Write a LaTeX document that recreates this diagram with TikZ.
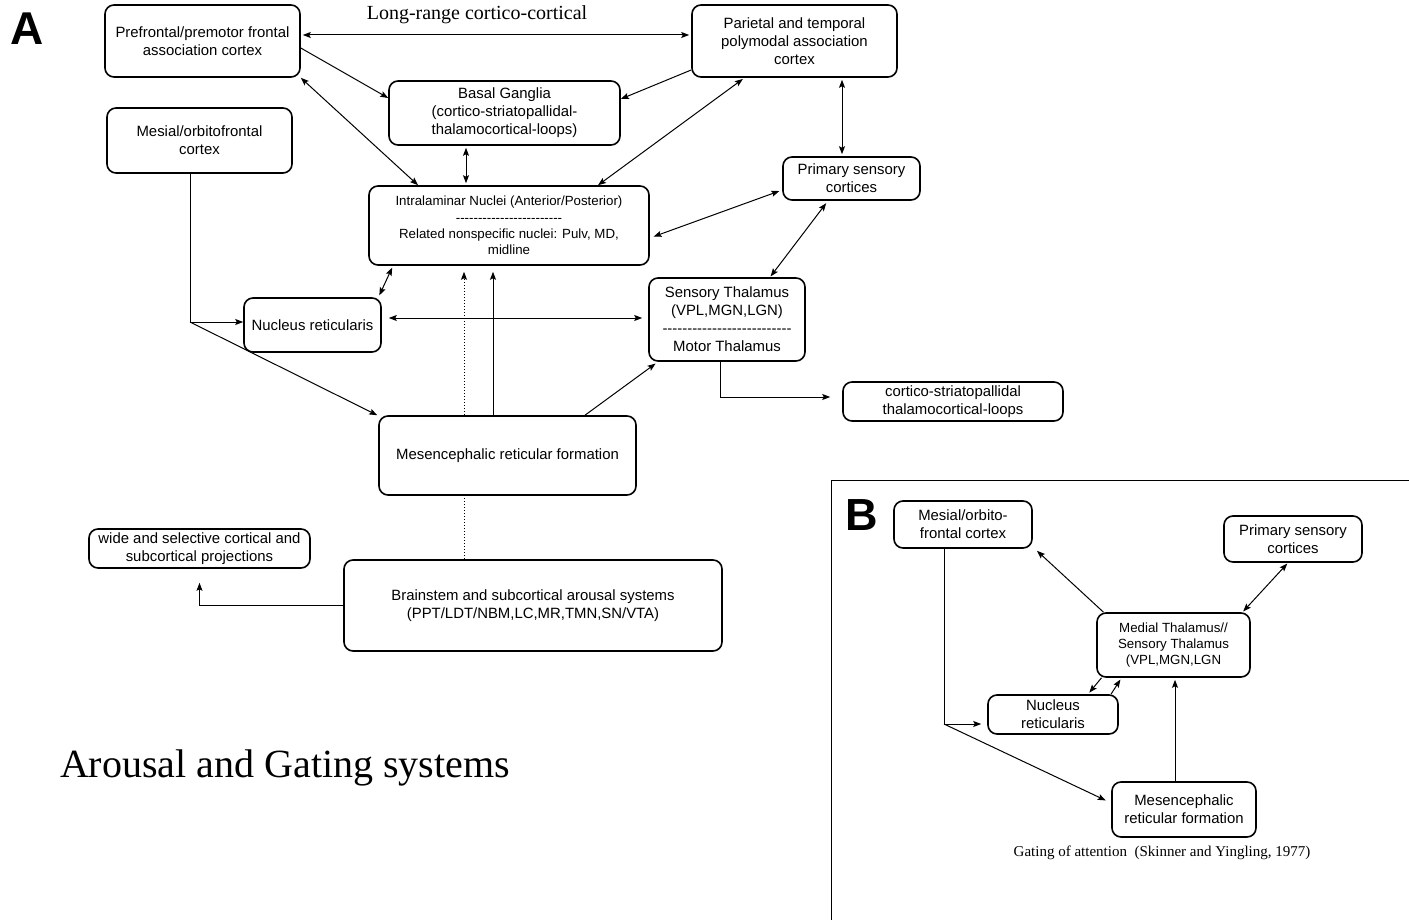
\documentclass[tikz,border=0pt]{standalone}
\usepackage{fontspec}
\setmainfont{Liberation Serif}
\setsansfont{Liberation Sans}
\usetikzlibrary{arrows.meta,backgrounds}
\newcommand\hh{-\kern0pt}
\begin{document}
\begin{tikzpicture}[x=1pt,y=-1pt,
  box/.style={draw, line width=1.6pt, rounded corners=9pt, fill=white, align=center, inner sep=0pt,
     font=\sffamily\fontsize{14.9}{18}\selectfont},
  smallbox/.style={box, font=\sffamily\fontsize{13.3}{16.3}\selectfont},
  tip/.tip={Stealth[length=8pt,width=6pt,inset=1.5pt]},
  conn/.style={line width=1pt, -tip},
  biconn/.style={line width=1pt, tip-tip},
  plainline/.style={line width=1pt},
  dotline/.style={line width=1pt, dash pattern=on 1.5pt off 1.5pt, -tip}]
\path[use as bounding box] (0,0) rectangle (1409,920);

% ---------- Panel A ----------
\node[font=\sffamily\bfseries\fontsize{46}{46}\selectfont] (labA) at (27,29) {A};
\node[font=\rmfamily\fontsize{20}{22}\selectfont] (lr) at (477,14.5) {Long-range cortico-cortical};

\node[box, minimum width=195pt, minimum height=72pt] (pf) at (202.5,41) {Prefrontal/premotor frontal\\association cortex};
\node[box, minimum width=205pt, minimum height=72pt] (par) at (794.5,41) {Parietal and temporal\\polymodal association\\cortex};
\node[box, minimum width=231pt, minimum height=64pt] (bg) at (504.5,113) {Basal Ganglia\\(cortico-striatopallidal-\\thalamocortical-loops)};
\node[box, minimum width=185pt, minimum height=65pt] (mes) at (199.5,140.5) {Mesial/orbitofrontal\\cortex};
\node[box, minimum width=137pt, minimum height=43pt] (ps) at (851.5,178.5) {Primary sensory\\cortices};
\node[smallbox, minimum width=280pt, minimum height=79pt] (il) at (509,225.5) {Intralaminar Nuclei (Anterior/Posterior)\\
\hh\hh\hh\hh\hh\hh\hh\hh\hh\hh\hh\hh\hh\hh\hh\hh\hh\hh\hh\hh\hh\hh\hh\hh\\
Related nonspecific nuclei: Pulv, MD,\\midline};
\node[box, minimum width=156pt, minimum height=83pt] (st) at (727,319.5) {Sensory Thalamus\\(VPL,MGN,LGN)\\
\hh\hh\hh\hh\hh\hh\hh\hh\hh\hh\hh\hh\hh\hh\hh\hh\hh\hh\hh\hh\hh\hh\hh\hh\hh\hh\\Motor Thalamus};
\node[box, minimum width=137pt, minimum height=54pt] (nr) at (312.5,325) {Nucleus reticularis};
\node[box, minimum width=220pt, minimum height=39pt] (csl) at (953,401.5) {cortico-striatopallidal\\thalamocortical-loops};
\node[box, minimum width=257pt, minimum height=79pt] (mrf) at (507.5,455.5) {Mesencephalic reticular formation};
\node[box, minimum width=378pt, minimum height=91pt] (bs) at (533,605.5) {Brainstem and subcortical arousal systems\\(PPT/LDT/NBM,LC,MR,TMN,SN/VTA)};
\node[box, minimum width=221pt, minimum height=39pt] (wide) at (199.5,548.5) {wide and selective cortical and\\subcortical projections};

\node[font=\rmfamily\fontsize{40}{44}\selectfont] (title) at (285,768) {Arousal and Gating systems};

% connectors A
\draw[biconn, shorten <=2pt, shorten >=2pt] ([yshift=6pt]pf.east) -- ([yshift=6pt]par.west);
\draw[conn] ([yshift=-7pt]pf.east) -- ([yshift=15pt]bg.west);
\draw[biconn] (pf.south east) -- ([xshift=-91pt]il.north);
\draw[conn] ([yshift=-29pt]par.west) -- ([yshift=14pt]bg.east);
\draw[biconn, shorten <=2pt] ([xshift=-50pt]par.south) -- ([xshift=89pt]il.north);
\draw[biconn, shorten <=2pt, shorten >=2pt] ([xshift=47.5pt]par.south) -- ([xshift=-9.5pt]ps.north);
\draw[biconn, shorten <=2pt, shorten >=2pt] ([xshift=-38.5pt]bg.south) -- ([xshift=-43pt]il.north);
\draw[biconn, shorten <=4pt, shorten >=3pt] ([yshift=-12.5pt]il.east) -- ([yshift=-11.5pt]ps.west);
\draw[biconn, shorten <=3pt, shorten >=1pt] ([xshift=-23.5pt]ps.south) -- ([xshift=43pt]st.north);
\draw[biconn, shorten <=2pt, shorten >=2pt] ([xshift=66pt]nr.north) -- ([xshift=-116pt]il.south);
\draw[biconn, shorten <=7pt, shorten >=6pt] ([yshift=7pt]nr.east) -- ([yshift=1.5pt]st.west);
\coordinate (jn) at (190,322);
\draw[plainline] ([xshift=-9.5pt]mes.south) -- (jn);
\draw[conn] (jn) -- (jn -| nr.west);
\draw[conn] (jn) -- ([xshift=-1pt]mrf.north west);
\draw[conn, shorten >=3pt] ([xshift=77.5pt]mrf.north) -- ([xshift=-69pt]st.south);
\draw[conn, shorten >=6pt] ([xshift=-14.5pt]mrf.north) -- ([xshift=-16pt]il.south);
\begin{scope}[on background layer]
\draw[dotline, shorten >=6pt] ([xshift=-69pt]bs.north) -- ([xshift=-45pt]il.south);
\end{scope}
\draw[conn, shorten >=12pt] ([xshift=-7pt]st.south) |- ([yshift=4.5pt]csl.west);
\draw[conn, shorten >=14pt] (bs.west) -| (wide.south);

% ---------- Panel B ----------
\draw[line width=1pt] (831,920) -- (831,480) -- (1409,480);
\node[font=\sffamily\bfseries\fontsize{45}{45}\selectfont] (labB) at (862,515) {B};
\node[box, minimum width=138pt, minimum height=47pt] (bmes) at (963,524.5) {Mesial/orbito-\\frontal cortex};
\node[box, minimum width=138pt, minimum height=46pt] (bps) at (1293,539) {Primary sensory\\cortices};
\node[smallbox, minimum width=153pt, minimum height=64pt] (bmt) at (1173.5,645) {Medial Thalamus//\\Sensory Thalamus\\(VPL,MGN,LGN};
\node[box, minimum width=130pt, minimum height=39pt] (bnr) at (1053,714.5) {Nucleus\\reticularis};
\node[box, minimum width=144pt, minimum height=55pt] (bmrf) at (1184,809.5) {Mesencephalic\\reticular formation};
\node[font=\rmfamily\fontsize{15}{17}\selectfont] (gat) at (1162,853) {Gating of attention\ \ (Skinner and Yingling, 1977)};

\coordinate (jb) at (944,724);
\draw[plainline] ([xshift=-19pt]bmes.south) -- (jb);
\draw[conn, shorten >=6pt] (jb) -- (jb -| bnr.west);
\draw[conn, shorten >=6pt] (jb) -- ([yshift=6.5pt]bmrf.west);
\draw[conn, shorten >=3pt] ([xshift=-70pt]bmt.north) -- ([xshift=2pt]bmes.south east);
\draw[biconn, shorten <=1pt, shorten >=1pt] ([xshift=69pt]bmt.north) -- ([xshift=-5pt]bps.south);
\draw[conn, shorten >=2pt] ([xshift=-72pt]bmt.south) -- ([xshift=35pt]bnr.north);
\draw[conn, shorten >=2pt] ([xshift=58pt]bnr.north) -- ([xshift=-52pt]bmt.south);
\draw[conn, shorten >=2pt] ([xshift=-9pt]bmrf.north) -- ([xshift=1.5pt]bmt.south);
\end{tikzpicture}
\end{document}
